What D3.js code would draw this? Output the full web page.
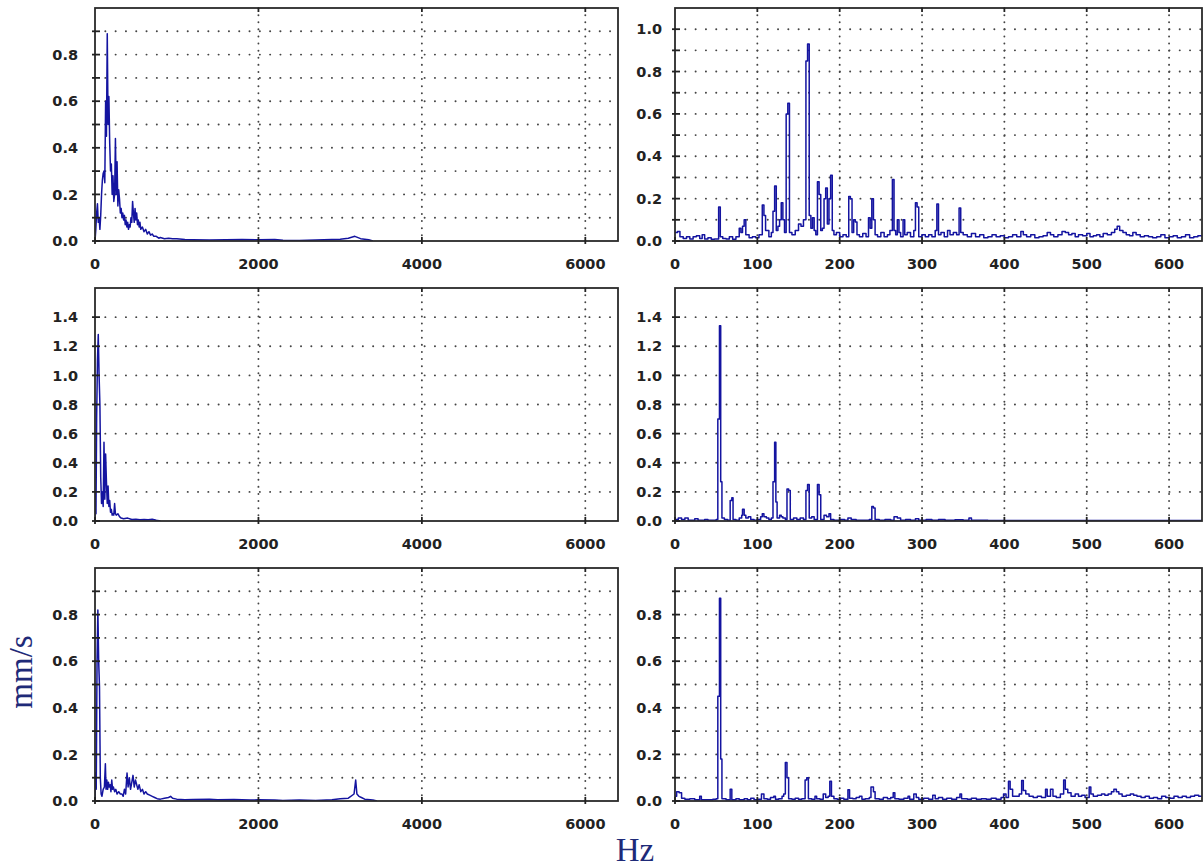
<!DOCTYPE html>
<meta charset="utf-8">
<script src="https://cdn.jsdelivr.net/npm/d3@7"></script>
<style>
    body {
        padding: 0;
        margin: 0;
        background: #fff;
    }
    text {
        font-family: "DejaVu Sans", Verdana, sans-serif;
    }
</style>
<body>
<script>
// spectra: [frequency Hz, amplitude mm/s]
const spectrumA = [[0,0],[10,0.05],[20,0.12],[30,0.16],[40,0.08],[50,0.1],[60,0.05],[70,0.11],[80,0.2],[90,0.26],[100,0.29],[110,0.3],[120,0.25],[130,0.6],[140,0.45],[150,0.89],[160,0.5],[170,0.62],[180,0.42],[190,0.3],[200,0.33],[210,0.2],[220,0.28],[230,0.17],[240,0.2],[250,0.44],[260,0.2],[270,0.34],[280,0.15],[290,0.22],[300,0.18],[310,0.12],[320,0.14],[330,0.1],[340,0.12],[350,0.09],[360,0.11],[370,0.07],[380,0.09],[390,0.06],[400,0.08],[410,0.05],[420,0.07],[430,0.06],[440,0.1],[450,0.08],[460,0.17],[470,0.12],[480,0.08],[490,0.14],[500,0.09],[510,0.12],[520,0.07],[530,0.09],[540,0.06],[550,0.08],[560,0.05],[580,0.06],[600,0.04],[620,0.05],[640,0.03],[660,0.04],[680,0.025],[700,0.03],[720,0.02],[750,0.02],[780,0.012],[800,0.015],[850,0.01],[900,0.012],[950,0.01],[1000,0.01],[1100,0.006],[1200,0.005],[1400,0.004],[1600,0.005],[1800,0.006],[2000,0.005],[2200,0.006],[2300,0.003],[2500,0.002],[2800,0.005],[3000,0.008],[3100,0.012],[3180,0.02],[3250,0.01],[3350,0.005],[3400,0]];

const spectrumB = [[0,0.04],[3,0.045],[6,0.02],[10,0.012],[14,0.02],[18,0.01],[22,0.02],[26,0.025],[30,0.012],[33,0.03],[36,0.01],[40,0.015],[44,0.008],[48,0.01],[53,0.16],[55,0.02],[58,0.012],[62,0.01],[66,0.02],[70,0.008],[74,0.02],[78,0.06],[80,0.04],[82,0.07],[84,0.1],[86,0.03],[90,0.015],[94,0.02],[98,0.015],[102,0.03],[106,0.17],[108,0.12],[110,0.05],[114,0.02],[117,0.04],[119,0.14],[121,0.26],[123,0.05],[125,0.07],[127,0.1],[129,0.18],[131,0.1],[133,0.04],[135,0.6],[137,0.65],[139,0.04],[142,0.03],[146,0.05],[150,0.08],[153,0.07],[156,0.1],[159,0.85],[161,0.93],[163,0.12],[165,0.06],[167,0.11],[169,0.05],[171,0.03],[173,0.28],[175,0.22],[177,0.05],[179,0.06],[181,0.2],[183,0.25],[185,0.08],[187,0.2],[189,0.31],[191,0.05],[193,0.03],[196,0.04],[200,0.02],[204,0.03],[208,0.02],[211,0.21],[213,0.2],[215,0.04],[217,0.1],[219,0.09],[221,0.03],[224,0.02],[228,0.035],[232,0.02],[235,0.11],[237,0.06],[239,0.2],[241,0.1],[243,0.03],[246,0.02],[250,0.04],[254,0.02],[258,0.03],[261,0.05],[264,0.29],[266,0.05],[268,0.03],[270,0.1],[272,0.04],[274,0.02],[277,0.1],[279,0.03],[282,0.04],[286,0.02],[290,0.05],[292,0.18],[294,0.16],[296,0.02],[300,0.03],[304,0.02],[308,0.03],[312,0.02],[316,0.05],[318,0.175],[320,0.03],[323,0.04],[327,0.02],[331,0.05],[334,0.03],[338,0.04],[342,0.03],[345,0.156],[347,0.04],[350,0.03],[355,0.02],[360,0.035],[365,0.02],[370,0.03],[375,0.015],[380,0.02],[385,0.03],[390,0.02],[395,0.025],[400,0.015],[405,0.02],[410,0.03],[415,0.02],[420,0.045],[423,0.03],[427,0.02],[432,0.03],[437,0.015],[442,0.02],[447,0.025],[452,0.04],[456,0.03],[460,0.02],[465,0.03],[470,0.045],[474,0.04],[478,0.03],[482,0.035],[486,0.02],[490,0.03],[495,0.025],[500,0.035],[504,0.02],[508,0.025],[512,0.03],[516,0.02],[520,0.035],[525,0.03],[530,0.04],[534,0.055],[537,0.07],[540,0.05],[544,0.04],[548,0.03],[552,0.025],[556,0.04],[560,0.03],[565,0.02],[570,0.025],[575,0.02],[580,0.015],[585,0.02],[590,0.03],[595,0.015],[600,0.02],[605,0.025],[610,0.015],[615,0.02],[620,0.03],[625,0.015],[630,0.02],[635,0.025],[640,0.02]];

const spectrumC = [[0,0],[5,0.2],[12,0.05],[20,0.7],[30,1.1],[40,1.28],[50,1.0],[60,0.8],[70,0.3],[80,0.12],[90,0.2],[100,0.1],[110,0.54],[120,0.15],[130,0.46],[140,0.27],[150,0.12],[160,0.24],[170,0.1],[180,0.14],[190,0.06],[200,0.08],[210,0.04],[220,0.05],[230,0.04],[240,0.12],[250,0.05],[260,0.04],[280,0.05],[300,0.03],[320,0.02],[350,0.015],[400,0.02],[450,0.01],[500,0.012],[550,0.008],[600,0.01],[650,0.008],[700,0.012],[750,0.005],[800,0]];

const spectrumD = [[0,0.01],[4,0.02],[8,0.01],[12,0.02],[16,0.005],[24,0.015],[28,0.005],[36,0.01],[40,0.005],[50,0.01],[52,0.7],[54,1.34],[55.5,0.27],[57,0.02],[60,0.01],[64,0.005],[67,0.14],[69,0.16],[70.5,0.01],[74,0.005],[78,0.02],[81,0.04],[82,0.08],[84,0.04],[86,0.02],[89,0.03],[92,0.01],[96,0.005],[100,0.01],[104,0.03],[106,0.05],[108,0.03],[111,0.02],[114,0.01],[117,0.02],[119,0.27],[121,0.54],[122.5,0.13],[124,0.02],[127,0.04],[129,0.03],[131,0.02],[134,0.01],[136,0.22],[138,0.21],[140,0.01],[144,0.02],[148,0.01],[152,0.02],[156,0.01],[159,0.21],[161,0.25],[163,0.02],[166,0.03],[169,0.01],[173,0.25],[175,0.18],[177,0.01],[181,0.04],[184,0.03],[187,0.05],[189,0.01],[193,0.005],[200,0.01],[206,0.005],[210,0.02],[214,0.01],[220,0.005],[230,0.005],[236,0.01],[239,0.1],[241,0.09],[243,0.01],[248,0.005],[255,0.01],[262,0.005],[266,0.03],[270,0.02],[274,0.005],[280,0.01],[286,0.005],[292,0.015],[296,0.005],[305,0.01],[312,0.005],[320,0.01],[328,0.005],[340,0.008],[350,0.005],[357,0.02],[360,0.005],[380,0.003],[640,0.003]];

const spectrumE = [[0,0],[5,0.12],[15,0.05],[25,0.6],[35,0.82],[45,0.6],[55,0.49],[65,0.1],[75,0.03],[85,0.02],[100,0.05],[115,0.06],[127,0.16],[135,0.05],[145,0.09],[155,0.05],[165,0.08],[175,0.06],[185,0.07],[195,0.04],[205,0.09],[215,0.05],[225,0.06],[240,0.04],[255,0.05],[270,0.03],[290,0.04],[310,0.03],[330,0.03],[345,0.02],[360,0.05],[375,0.03],[392,0.12],[405,0.06],[420,0.1],[435,0.05],[450,0.08],[465,0.11],[480,0.06],[495,0.09],[510,0.07],[525,0.05],[540,0.07],[560,0.04],[580,0.05],[600,0.03],[620,0.04],[640,0.03],[670,0.025],[700,0.02],[730,0.015],[760,0.01],[800,0.008],[850,0.012],[900,0.015],[925,0.02],[950,0.012],[1000,0.008],[1100,0.005],[1200,0.006],[1400,0.008],[1500,0.005],[1700,0.006],[1900,0.004],[2000,0.005],[2200,0.004],[2300,0.002],[2500,0.004],[2700,0.002],[2900,0.005],[3000,0.01],[3100,0.012],[3170,0.03],[3190,0.09],[3205,0.03],[3230,0.02],[3260,0.015],[3300,0.008],[3400,0.004],[3450,0]];

const spectrumF = [[0,0.02],[2,0.04],[5,0.035],[8,0.012],[12,0.008],[18,0.01],[24,0.005],[30,0.02],[32,0.005],[40,0.005],[46,0.008],[50,0.01],[52,0.45],[54,0.87],[55.5,0.18],[57,0.01],[62,0.005],[67,0.05],[69,0.005],[74,0.01],[78,0.005],[84,0.01],[88,0.005],[92,0.012],[96,0.005],[100,0.008],[105,0.03],[108,0.01],[112,0.008],[116,0.015],[120,0.02],[122,0.008],[126,0.01],[130,0.02],[132,0.03],[134,0.165],[136,0.1],[138,0.01],[142,0.008],[146,0.012],[150,0.008],[154,0.01],[158,0.09],[160,0.1],[162,0.01],[166,0.008],[170,0.02],[172,0.01],[176,0.008],[180,0.03],[183,0.015],[186,0.02],[188,0.085],[190,0.02],[193,0.01],[197,0.008],[201,0.012],[205,0.008],[210,0.048],[212,0.012],[216,0.01],[220,0.015],[224,0.02],[227,0.008],[231,0.01],[236,0.015],[238,0.06],[241,0.04],[243,0.01],[248,0.008],[253,0.015],[258,0.01],[262,0.015],[265,0.035],[267,0.01],[272,0.008],[278,0.012],[283,0.02],[285,0.008],[290,0.03],[293,0.015],[296,0.008],[302,0.012],[308,0.008],[313,0.025],[316,0.01],[320,0.015],[325,0.008],[330,0.012],[336,0.008],[342,0.015],[346,0.03],[348,0.01],[355,0.008],[360,0.012],[366,0.008],[372,0.01],[378,0.008],[384,0.012],[390,0.008],[396,0.015],[399,0.03],[402,0.015],[405,0.085],[407,0.05],[410,0.02],[414,0.02],[418,0.03],[421,0.088],[423,0.045],[426,0.03],[430,0.02],[435,0.015],[440,0.02],[445,0.015],[450,0.05],[452,0.02],[456,0.05],[459,0.02],[463,0.015],[468,0.03],[472,0.09],[474,0.05],[477,0.035],[481,0.02],[486,0.03],[490,0.02],[494,0.025],[498,0.015],[503,0.06],[505,0.03],[508,0.02],[513,0.025],[518,0.03],[522,0.025],[526,0.03],[530,0.04],[533,0.05],[536,0.04],[539,0.03],[543,0.02],[548,0.025],[553,0.03],[557,0.025],[561,0.02],[566,0.015],[571,0.02],[576,0.012],[581,0.015],[586,0.01],[591,0.02],[596,0.015],[601,0.012],[606,0.02],[611,0.015],[616,0.02],[621,0.015],[626,0.02],[631,0.025],[636,0.02],[640,0.02]];

// ticks
const xTicksWide = [0, 2000, 4000, 6000];
const xTicksNarrow = [0, 100, 200, 300, 400, 500, 600];
const yLabels08 = [0, 0.2, 0.4, 0.6, 0.8];
const yGrid09 = [0.1, 0.2, 0.3, 0.4, 0.5, 0.6, 0.7, 0.8, 0.9];
const yLabels10 = [0, 0.2, 0.4, 0.6, 0.8, 1.0];
const yGrid10 = [0.1, 0.2, 0.3, 0.4, 0.5, 0.6, 0.7, 0.8, 0.9, 1.0];
const yLabels14 = [0, 0.2, 0.4, 0.6, 0.8, 1.0, 1.2, 1.4];
const yGrid14 = [0.2, 0.4, 0.6, 0.8, 1.0, 1.2, 1.4];

const width = 1204;
const height = 867;

const cols = [
    {x0: 95, x1: 618, xMax: 6400, xTicks: xTicksWide, labelGap: 17, step: false},
    {x0: 675, x1: 1202, xMax: 640, xTicks: xTicksNarrow, labelGap: 13, step: true}
];
const rows = [{y0: 8, y1: 241}, {y0: 288, y1: 521}, {y0: 568, y1: 801}];

const panels = [
    {data: spectrumA, col: 0, row: 0, yMax: 1.0, grid: yGrid09, labels: yLabels08},
    {data: spectrumB, col: 1, row: 0, yMax: 1.1, grid: yGrid10, labels: yLabels10},
    {data: spectrumC, col: 0, row: 1, yMax: 1.6, grid: yGrid14, labels: yLabels14},
    {data: spectrumD, col: 1, row: 1, yMax: 1.6, grid: yGrid14, labels: yLabels14},
    {data: spectrumE, col: 0, row: 2, yMax: 1.0, grid: yGrid09, labels: yLabels08},
    {data: spectrumF, col: 1, row: 2, yMax: 1.0, grid: yGrid09, labels: yLabels08}
];

const svg = d3.select('body').append('svg')
    .attr('width', width)
    .attr('height', height)
    .attr('viewBox', [0, 0, width, height]);

svg.append('rect').attr('width', width).attr('height', height).attr('fill', '#fff');

const fmt = d3.format('.1f');

panels.forEach((p, i) => {
    const c = cols[p.col];
    const r = rows[p.row];
    const x = d3.scaleLinear().domain([0, c.xMax]).range([c.x0, c.x1]);
    const y = d3.scaleLinear().domain([0, p.yMax]).range([r.y1, r.y0]);
    const g = svg.append('g');

    g.append('clipPath').attr('id', 'clip' + i)
        .append('rect')
            .attr('x', c.x0).attr('y', r.y0)
            .attr('width', c.x1 - c.x0).attr('height', r.y1 - r.y0);

    // dotted grid
    g.selectAll('line.hgrid')
        .data(p.grid)
        .join('line')
            .attr('class', 'hgrid')
            .attr('x1', c.x0).attr('x2', c.x1)
            .attr('y1', d => y(d)).attr('y2', d => y(d))
            .attr('stroke', '#444')
            .attr('stroke-width', 1.9)
            .attr('stroke-linecap', 'round')
            .attr('stroke-dasharray', '0.1 10.2');

    g.selectAll('line.vgrid')
        .data(c.xTicks.filter(d => d > 0))
        .join('line')
            .attr('class', 'vgrid')
            .attr('x1', d => x(d)).attr('x2', d => x(d))
            .attr('y1', r.y0).attr('y2', r.y1)
            .attr('stroke', '#444')
            .attr('stroke-width', 1.9)
            .attr('stroke-linecap', 'round')
            .attr('stroke-dasharray', '0.1 7');

    // spectrum
    const line = d3.line()
        .x(d => x(d[0]))
        .y(d => y(d[1]))
        .curve(c.step ? d3.curveStepAfter : d3.curveLinear);

    g.append('path')
        .datum(p.data)
        .attr('clip-path', `url(#clip${i})`)
        .attr('d', line)
        .attr('fill', 'none')
        .attr('stroke', '#1414a0')
        .attr('stroke-width', 1.5)
        .attr('stroke-linejoin', 'round');

    // frame
    g.append('rect')
        .attr('x', c.x0).attr('y', r.y0)
        .attr('width', c.x1 - c.x0).attr('height', r.y1 - r.y0)
        .attr('fill', 'none')
        .attr('stroke', '#2a2a2a')
        .attr('stroke-width', 1.8);

    // y ticks
    g.selectAll('line.ytick')
        .data(p.grid.concat([0]))
        .join('line')
            .attr('class', 'ytick')
            .attr('x1', c.x0 - 3).attr('x2', c.x0 + 5)
            .attr('y1', d => y(d)).attr('y2', d => y(d))
            .attr('stroke', '#222')
            .attr('stroke-width', 1.8);

    // x ticks, bottom and top
    g.selectAll('line.xtick')
        .data(c.xTicks)
        .join('line')
            .attr('class', 'xtick')
            .attr('x1', d => x(d)).attr('x2', d => x(d))
            .attr('y1', r.y1 - 4).attr('y2', r.y1 + 3)
            .attr('stroke', '#222')
            .attr('stroke-width', 1.8);

    g.selectAll('line.xtick2')
        .data(c.xTicks.filter(d => d > 0))
        .join('line')
            .attr('class', 'xtick2')
            .attr('x1', d => x(d)).attr('x2', d => x(d))
            .attr('y1', r.y0).attr('y2', r.y0 + 4)
            .attr('stroke', '#222')
            .attr('stroke-width', 1.8);

    g.selectAll('text.ylab')
        .data(p.labels)
        .join('text')
            .attr('class', 'ylab')
            .attr('x', c.x0 - c.labelGap)
            .attr('y', d => y(d))
            .attr('dy', '0.36em')
            .attr('text-anchor', 'end')
            .attr('font-size', '14.5px')
            .attr('font-weight', 'bold')
            .attr('fill', '#222')
            .text(d => fmt(d));

    g.selectAll('text.xlab')
        .data(c.xTicks)
        .join('text')
            .attr('class', 'xlab')
            .attr('x', d => x(d))
            .attr('y', r.y1 + 28)
            .attr('text-anchor', 'middle')
            .attr('font-size', '14.5px')
            .attr('font-weight', 'bold')
            .attr('fill', '#222')
            .text(d => d);
});

svg.append('text')
    .attr('transform', 'translate(32, 672) rotate(-90)')
    .attr('text-anchor', 'middle')
    .style('font-family', '"Liberation Serif", "Times New Roman", serif')
    .attr('font-size', '33px')
    .attr('fill', '#1e2a78')
    .text('mm/s');

svg.append('text')
    .attr('x', 635)
    .attr('y', 861)
    .attr('text-anchor', 'middle')
    .style('font-family', '"Liberation Serif", "Times New Roman", serif')
    .attr('font-size', '33px')
    .attr('fill', '#1e2a78')
    .text('Hz');
</script>
</body>
